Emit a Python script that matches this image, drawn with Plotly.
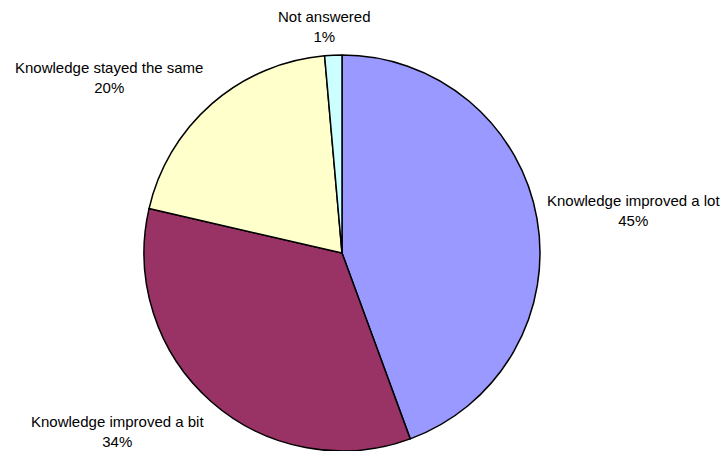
import plotly.graph_objects as go

# Data
categories = ["Knowledge improved a lot", "Knowledge improved a bit",
              "Knowledge stayed the same", "Not answered"]
shares = [44.4, 34.2, 20.0, 1.4]          # slice sizes as measured on the picture
pct_labels = ["45%", "34%", "20%", "1%"]   # percentages as printed on the chart

colors = ["#9999FF", "#993366", "#FFFFCC", "#CCFFFF"]

W, H = 722, 451
# label centres in pixels (layout only)
label_pos = [(633, 211), (117.5, 431.5), (109, 77), (324, 26.5)]

fig = go.Figure(go.Pie(
    labels=categories,
    values=shares,
    sort=False,
    direction="clockwise",
    rotation=0,
    marker=dict(colors=colors, line=dict(color="#000000", width=1.5)),
    textinfo="none",
    hoverinfo="none",
    domain=dict(x=[144 / W, 540 / W], y=[0, 1 - 55 / H]),
))

annotations = []
for cat, pct, (px, py) in zip(categories, pct_labels, label_pos):
    annotations.append(dict(
        x=px / W, y=1 - py / H, xref="paper", yref="paper",
        text=f"{cat}<br>{pct}", showarrow=False,
        xanchor="center", yanchor="middle", align="center",
        font=dict(family="Liberation Sans, Arial, sans-serif", size=15, color="#000000"),
    ))

fig.update_layout(
    width=W, height=H,
    margin=dict(l=0, r=0, t=0, b=0),
    paper_bgcolor="#FFFFFF",
    plot_bgcolor="#FFFFFF",
    showlegend=False,
    annotations=annotations,
)

fig.write_html("out.html",
               config={"displayModeBar": False, "staticPlot": True},
               post_script="document.body.style.margin='0px';document.body.style.overflow='hidden';")
